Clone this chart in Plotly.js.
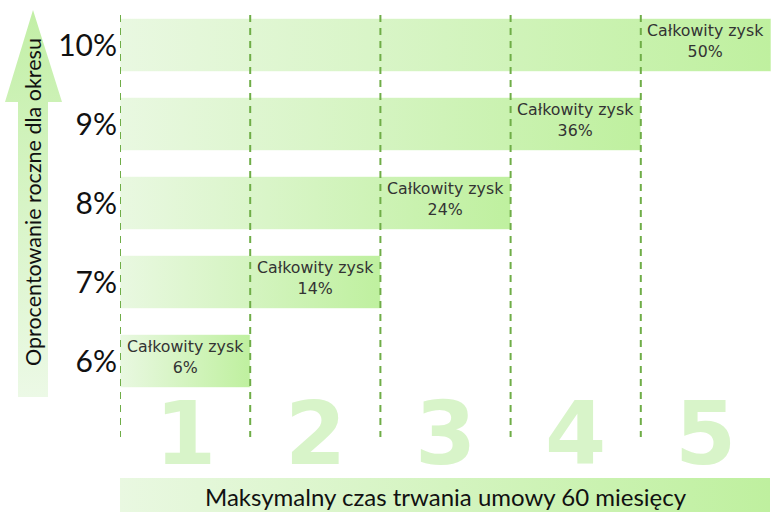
<!DOCTYPE html>
<html><head><meta charset="utf-8">
<script src="https://cdn.plot.ly/plotly-3.0.1.min.js"></script>
<style>html,body{margin:0;padding:0;background:#fff}#c{width:771px;height:513px}</style>
</head><body><div id="c"></div>
<script>
// Data
const rates = [6, 7, 8, 9, 10];           // annual interest %
const years = [1, 2, 3, 4, 5];            // duration in years
const totals = [6, 14, 24, 36, 50];       // total profit %
const yearLabels = ['1', '2', '3', '4', '5'];
const labelText = 'Całkowity zysk';
const yTitle = 'Oprocentowanie roczne dla okresu';
const xTitle = 'Maksymalny czas trwania umowy 60 miesięcy';

const W = 771, H = 513;
const barHalf = 0.335;
const gradBar = [[0, '#e9f8e1'], [1, '#bff09f']];
const traces = [];

// decorative arrow (pixel space)
traces.push({
  x: [33, 62, 48, 48, 18, 18, 5, 33], y: [10, 102, 102, 397, 397, 102, 102, 10],
  xaxis: 'x2', yaxis: 'y2', mode: 'lines', line: {width: 0}, fill: 'toself',
  fillgradient: {type: 'vertical', colorscale: [[0, '#ecf9e6'], [1, '#c2efa6']]},
  hoverinfo: 'skip', showlegend: false
});
// bottom band
traces.push({
  x: [120, 770, 770, 120, 120], y: [478, 478, 512, 512, 478],
  xaxis: 'x2', yaxis: 'y2', mode: 'lines', line: {width: 0}, fill: 'toself',
  fillgradient: {type: 'horizontal', colorscale: gradBar},
  hoverinfo: 'skip', showlegend: false
});

// bars
rates.forEach((r, i) => {
  const n = years[i];
  traces.push({
    x: [0, n, n, 0, 0], y: [r - barHalf, r - barHalf, r + barHalf, r + barHalf, r - barHalf],
    mode: 'lines', line: {width: 1, color: 'rgba(255,255,255,0.6)'}, fill: 'toself',
    fillgradient: {type: 'horizontal', colorscale: gradBar},
    hoverinfo: 'skip', showlegend: false
  });
});

const annotations = [];
rates.forEach((r, i) => {
  annotations.push({
    xref: 'x', yref: 'y', x: years[i] - 0.5, y: r + 0.05,
    text: labelText + '<br>' + totals[i] + '%', showarrow: false,
    font: {family: 'DejaVu Sans', size: 15.8, color: '#333'}, align: 'center'
  });
});
years.forEach((n, i) => {
  annotations.push({
    xref: 'x', yref: 'y2', x: n - 0.5, y: 433, text: '<b>' + yearLabels[i] + '</b>',
    showarrow: false, font: {family: 'DejaVu Sans', size: 88, color: '#d8f4c9'}
  });
});
annotations.push({
  xref: 'x2', yref: 'y2', x: 33, y: 202, text: yTitle, textangle: -90, showarrow: false,
  font: {family: 'Lato', size: 21.5, color: '#111'}
});
annotations.push({
  xref: 'x2', yref: 'y2', x: 446, y: 496, text: xTitle, showarrow: false,
  font: {family: 'Lato', size: 24, color: '#111'}
});

const shapes = years.map((n) => ({
  type: 'line', xref: 'x', yref: 'y2', x0: n - 1, x1: n - 1, y0: 15, y1: 437,
  line: {color: '#6fad47', width: 2, dash: '7px,6px'}, layer: 'above'
}));

const yTop = 10 + 45 / 79, yBot = 6 - (H - 361) / 79;
const layout = {
  width: W, height: H, margin: {l: 0, r: 0, t: 0, b: 0},
  paper_bgcolor: '#fff', plot_bgcolor: 'rgba(0,0,0,0)', showlegend: false,
  xaxis: {domain: [120 / W, 1], range: [0, 5], visible: false, fixedrange: true},
  yaxis: {range: [yBot, yTop], tickvals: rates, ticktext: rates.map(r => r + '%'),
    tickfont: {family: 'Lato', size: 30, color: '#111'}, showgrid: false, zeroline: false,
    showline: false, ticks: '', ticklabelstandoff: 2, fixedrange: true},
  xaxis2: {domain: [0, 1], range: [0, W], anchor: 'y2', visible: false},
  yaxis2: {domain: [0, 1], range: [H, 0], anchor: 'x2', visible: false},
  annotations: annotations, shapes: shapes
};
Plotly.newPlot('c', traces, layout, {displayModeBar: false, staticPlot: true});
</script></body></html>
